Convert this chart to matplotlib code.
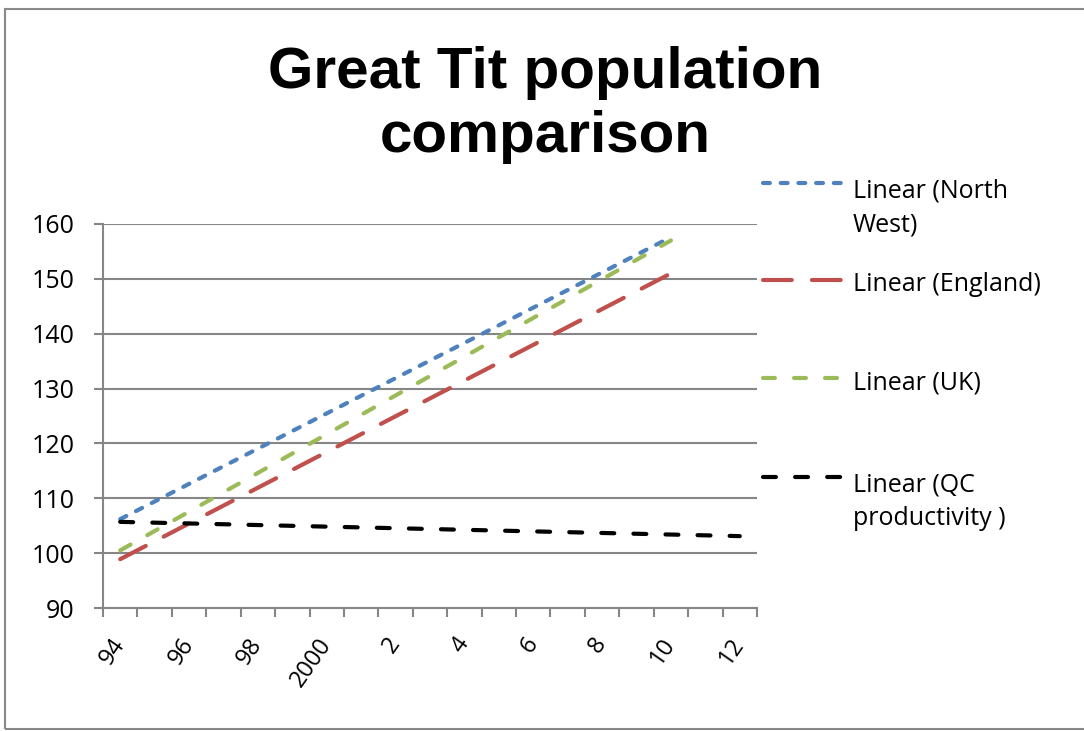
import matplotlib
matplotlib.use("Agg")
import matplotlib.pyplot as plt
from matplotlib.lines import Line2D
from matplotlib.patches import Rectangle

# ---- data ----
years = list(range(1994, 2013))
tick_labels = ['94', '96', '98', '2000', '2', '4', '6', '8', '10', '12']
tick_years = [1994, 1996, 1998, 2000, 2002, 2004, 2006, 2008, 2010, 2012]

nw_years = [1994, 2010]
nw_values = [106.2, 157.6]
eng_years = [1994, 2010]
eng_values = [98.9, 151.0]
uk_years = [1994, 2010]
uk_values = [100.5, 157.0]
qc_years = [1994, 2012]
qc_values = [105.7, 103.1]

labels = ['Linear (North\nWest)', 'Linear (England)', 'Linear (UK)', 'Linear (QC\nproductivity )']
colors = ['#4F81BD', '#C0504D', '#9BBB59', '#000000']

W, H = 1084, 731
fig = plt.figure(figsize=(W / 100, H / 100), dpi=100)
fig.patch.set_facecolor('white')

L, R, T, B = 103, 757, 224, 608
ax = fig.add_axes([L / W, 1 - B / H, (R - L) / W, (B - T) / H])

grey = '#868686'
lw = 3.0
FONT = 'Open Sans'
series = [(nw_years, nw_values, (1.65, 2.6)),
          (eng_years, eng_values, (6.9, 4.85)),
          (uk_years, uk_values, (2.85, 4.6)),
          (qc_years, qc_values, (3.1, 4.6))]
x0 = years[0]
for (xs, ys, dash), c in zip(series, colors):
    ax.plot([x - x0 for x in xs], ys, color=c, lw=lw, dashes=dash,
            dash_capstyle='round', solid_capstyle='round', zorder=3)

ax.set_xlim(-0.5, len(years) - 0.5)
ax.set_ylim(90, 160)
ax.set_yticks(range(90, 161, 10))
ax.yaxis.grid(True, color=grey, lw=1.5)
ax.set_axisbelow(True)

ax.set_xticks([i - 0.5 for i in range(len(years) + 1)])
ax.set_xticklabels([])
ax.set_xticks([y - x0 for y in tick_years], minor=True)
ax.set_xticklabels(tick_labels, minor=True, rotation=55, ha='right', va='center',
                   rotation_mode='anchor', fontsize=17, family=FONT)
ax.tick_params(axis='x', which='minor', length=0, pad=23)
ax.tick_params(axis='x', which='major', length=6.5, width=1.5, color=grey)
ax.tick_params(axis='y', length=6.5, width=1.5, color=grey, pad=14, labelsize=18)
for lab in ax.get_yticklabels():
    lab.set_family(FONT)

for s in ['top', 'right']:
    ax.spines[s].set_visible(False)
for s in ['left', 'bottom']:
    ax.spines[s].set_color(grey)
    ax.spines[s].set_linewidth(1.5)

# title
tfont = dict(family=['Liberation Sans Narrow', 'Liberation Sans'], weight='bold',
             fontsize=42, ha='center', va='baseline')
fig.text(545 / W, 1 - 88 / H, 'Great Tit population', **tfont)
fig.text(545 / W, 1 - 152 / H, 'comparison', **tfont)

# legend (manual)
handle_y = [183, 280, 378, 477]
for (xs, ys, dash), c, lab, hy in zip(series, colors, labels, handle_y):
    fig.add_artist(Line2D([763 / W, 842 / W], [1 - hy / H, 1 - hy / H],
                          transform=fig.transFigure, color=c, lw=lw, dashes=dash,
                          dash_capstyle='round'))
    nl = lab.count('\n')
    fig.text(853 / W, 1 - (hy + 11 + 37 * nl) / H, lab, family=FONT, fontsize=18,
             ha='left', va='baseline', linespacing=1.45)

# border
fig.add_artist(Rectangle((5 / W, 1 - 729 / H), (W + 5) / W, (729 - 9) / H,
                         transform=fig.transFigure, fill=False, edgecolor='#898989',
                         lw=1.5, clip_on=False))

fig.savefig('out.png', dpi=100)
